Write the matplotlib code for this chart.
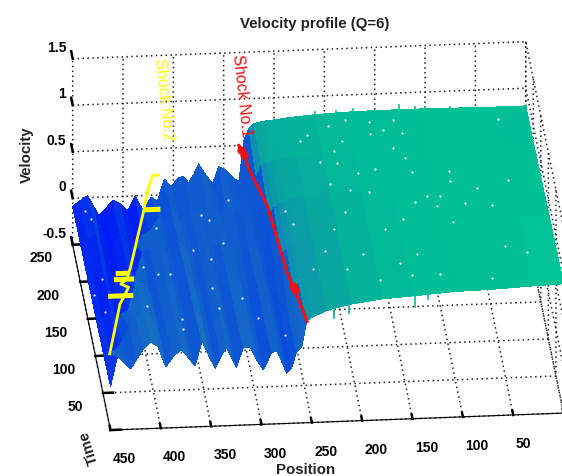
import matplotlib
matplotlib.use("Agg")
import matplotlib.pyplot as plt
from matplotlib.colors import LinearSegmentedColormap, Normalize
from matplotlib.transforms import offset_copy
import numpy as np

# values
positions = [450, 443, 435, 430, 424, 417, 410, 403, 395, 388, 380, 372, 366, 359, 352, 346, 340, 335, 330, 325, 318,
             311, 305, 298, 290, 285, 280, 275, 270, 265, 260, 255, 250, 235, 210, 180, 150, 110, 70, 30, 0]
times = [0, 50, 100, 150, 200, 250]

velocity_t0 = [-.03, .29, .2, .15, .25, .36, .43, .38, .155, .26, .34, .24, .154, .42, .25, .124, .25, .345, .24, .126,
               .33, .33, .2, .083, .27, .28, .17, .04, .1, .27, .316, .6, .63, .7, .76, .8, .82, .85, .86, .88, .89]
velocity_t50 = [-.05, -.08, -.02, .05, .22, .3, .36, .3, .14, .22, .3, .2, .14, .36, .24, .13, .22, .3, .22, .14,
                .3, .3, .2, .1, .25, .27, .17, .06, .12, .24, .55, .6, .62, .68, .75, .8, .82, .84, .85, .87, .88]
velocity_t100 = [-.06, -.1, -.04, -.1, -.06, -.02, .28, .26, .12, .2, .28, .18, .13, .32, .22, .14, .22, .28, .2, .16,
                 .28, .26, .2, .12, .24, .25, .15, .08, .14, .52, .58, .62, .64, .7, .76, .8, .82, .83, .84, .85, .86]
velocity_t150 = [-.07, -.08, -.02, -.1, -.14, -.08, -.03, -.07, .2, .22, .24, .17, .12, .28, .2, .15, .22, .24, .2, .22,
                 .26, .2, .22, .16, .2, .2, .14, .12, .55, .62, .66, .68, .7, .73, .78, .81, .82, .83, .83, .84, .84]
velocity_t200 = [-.08, -.05, 0, -.08, -.17, -.1, -.04, -.08, -.14, -.02, .02, .16, .1, .22, .14, .16, .2, .18, .2, .27,
                 .22, .14, .25, .2, .17, .15, .15, .55, .68, .7, .72, .73, .74, .76, .79, .81, .82, .83, .83, .82, .82]
velocity_t250 = [-.09, -.03, .02, -.08, -.2, -.12, -.04, -.08, -.157, 0, -.163, -.02, -.07, .17, .084, .17, .19, .12,
                 .2, .32, .2, .1, .28, .24, .15, .11, .55, .68, .73, .74, .75, .76, .76, .78, .8, .815, .82, .82, .815,
                 .81, .81]

shock1_pos = [285, 282, 279, 274, 269, 267, 265, 263, 260, 257, 253]
shock1_time = [250, 237, 214, 191, 168, 139, 107, 78, 59, 41, 11]
shock1_vel = [.5] * len(shock1_pos)
shock1_blob_pos = [284, 282, 260, 259]
shock1_blob_time = [244, 237, 59, 54]

shock2_pos = [450, 439, 430, 425, 418, 425, 418, 412, 399, 388, 379, 372, 366]
shock2_time = [5, 41, 71, 80, 93, 98, 104, 120, 160, 194, 224, 241, 242]
shock2_vel = [.28] * len(shock2_pos)
# the flat bars where the tracked shock jumps: (from, to, time)
bar_from = [440, 431, 428, 387]
bar_to = [415, 411, 415, 371]
bar_time = [82, 104, 112, 196]

# white pin holes in the surface
speck_pos = [30, 133, 158, 181, 199, 229, 221, 145, 127, 159, 188, 139, 198, 129, 214, 197, 179, 161, 89, 125, 89, 32,
             64, 190, 172, 115, 102, 208, 53, 79, 107, 128, 199, 253, 214, 163, 95, 144, 48, 28, 137, 227, 242, 209,
             178, 146, 118, 68, 190, 155,
             398, 385, 373, 330, 334, 307, 402, 371, 332, 295, 272, 346, 315, 370, 378, 331, 301, 324, 247,
             448, 436, 440, 439, 435]
speck_time = [235, 239, 237, 241, 234, 216, 223, 226, 221, 222, 213, 201, 201, 188, 187, 184, 170, 174, 168, 169, 155,
              153, 144, 148, 144, 136, 135, 157, 120, 124, 122, 128, 118, 105, 96, 93, 100, 106, 65, 55, 59, 67, 43, 42,
              26, 31, 30, 23, 61, 47,
              129, 120, 119, 137, 98, 83, 77, 44, 71, 55, 32, 150, 158, 58, 181, 196, 215, 189, 197,
              125, 147, 102, 239, 228]
speck_vel = [.8] * 50 + [.2] * 19 + [-.05] * 5

# thin spikes on the front and back edges of the plateau
spike_pos = [148, 135, 213, 228, 172, 188, 126, 100, 209, 110, 75]
spike_time = [0, 0, 0, 0, 250, 250, 250, 250, 250, 250, 250]
spike_top = [.82, .87, .74, .70, .85, .83, .87, .83, .83, .84, .83]
spike_bottom = [.70, .78, .66, .62, .76, .76, .81, .81, .79, .81, .81]

position_ticks = [0, 50, 100, 150, 200, 250, 300, 350, 400, 450]
position_labels = ["", "50", "100", "150", "200", "250", "300", "350", "400", "450"]
time_ticks = [0, 50, 100, 150, 200, 250]
time_labels = ["", "50", "100", "150", "200", "250"]
velocity_ticks = [-0.5, 0, 0.5, 1, 1.5]
velocity_labels = ["-0.5", "0", "0.5", "1", "1.5"]

W, H = 562, 477
INK = "#222222"

plt.rcParams["font.family"] = ["Liberation Sans", "DejaVu Sans"]
plt.rcParams["font.weight"] = "bold"
plt.rcParams["font.size"] = 10
plt.rcParams["text.color"] = INK


def shift_tick_labels(axis, dx, dy):
    # mplot3d resets the tick transforms in get_major_ticks, so the pixel offset goes in after it
    original = axis.get_major_ticks
    shifted = offset_copy(axis.axes.transData, fig=axis.figure, x=dx, y=dy, units="dots")

    def get_major_ticks(numticks=None):
        ticks = original(numticks)
        for tick in ticks:
            tick.label1.set_transform(shifted)
        return ticks

    axis.get_major_ticks = get_major_ticks


fig = plt.figure(figsize=(W / 100, H / 100), dpi=100, facecolor="white")
side = 600
ax = fig.add_axes([10 / W, -68 / H, side / W, side / H], projection="3d", computed_zorder=False)
ax.patch.set_visible(False)
ax.set_proj_type("ortho")
ax.view_init(elev=25.4, azim=-95)
ax.set_box_aspect((455, 434, 206), zoom=1.07)
ax.set_xlim(450, 0, view_margin=0)
ax.set_ylim(0, 250, view_margin=0)
ax.set_zlim(-0.5, 1.5, view_margin=0)

norm = Normalize(-0.2, 0.9)
cmap = LinearSegmentedColormap.from_list("flow", [
    (0.0, (0.0, 0.1, 0.97)), (0.09, (0.0, 0.13, 0.95)), (0.22, (0.03, 0.3, 0.86)), (0.36, (0.06, 0.36, 0.81)),
    (0.55, (0.08, 0.43, 0.77)), (0.68, (0.05, 0.56, 0.7)), (0.82, (0.03, 0.66, 0.62)), (0.93, (0.0, 0.75, 0.59)),
    (1.0, (0.0, 0.77, 0.59))])

velocity = np.array([velocity_t0, velocity_t50, velocity_t100, velocity_t150, velocity_t200, velocity_t250])
X, Y = np.meshgrid(positions, times)
ax.plot_surface(X, Y, velocity, facecolors=cmap(norm(velocity)), rstride=1, cstride=1, shade=False,
                linewidth=0, antialiased=False, zorder=2)
for p, t, top, bottom in zip(spike_pos, spike_time, spike_top, spike_bottom):
    ax.plot([p, p], [t, t], [top, bottom], color=cmap(norm(top)), lw=1.2, zorder=2.5)
ax.scatter(speck_pos, speck_time, speck_vel, s=2.5, c="white", linewidths=0, depthshade=False, zorder=3)

ax.plot(shock2_pos, shock2_time, shock2_vel, color="#ffff00", lw=2, zorder=5)
for p0, p1, t in zip(bar_from, bar_to, bar_time):
    ax.plot([p0, p1], [t, t], [.28, .28], color="#ffff00", lw=3.6, solid_capstyle="butt", zorder=5)
ax.plot(shock1_pos, shock1_time, shock1_vel, color="#ee1111", lw=2.2, zorder=5)
ax.plot(shock1_blob_pos, shock1_blob_time, [.5] * 4, ls="none", marker="o", ms=5, color="#ee1111", zorder=6)

ax.text(359, 250, 1.03, "Shock No.2", zdir=(-1, 0, -0.1), color="#ffff00", ha="center", va="center",
        fontweight="normal", fontsize=11.5, zorder=7)
ax.text(282, 250, 1.05, "Shock No.1", zdir=(-1, 0, -0.1), color="#ee1111", ha="center", va="center",
        fontweight="normal", fontsize=11.5, zorder=7)

ax.set_xticks(position_ticks)
ax.set_xticklabels(position_labels, ha="left")
ax.set_yticks(time_ticks)
ax.set_yticklabels(time_labels, ha="right")
ax.set_zticks(velocity_ticks)
ax.set_zticklabels(velocity_labels, ha="right")

for axis in [ax.xaxis, ax.yaxis, ax.zaxis]:
    axis.pane.set_facecolor("white")
    axis.pane.set_edgecolor("none")
    axis._axinfo["grid"].update(color=INK, linestyle=(0, (1, 2.2)), linewidth=1.1)
    axis._axinfo["tick"].update(inward_factor=0, outward_factor=0.28, linewidth={True: 1.8, False: 1.8})
    axis._axinfo["axisline"].update(color="black", linewidth=1.8)
    axis.offsetText.set_visible(False)
ax.zaxis.line.set_visible(False)
# velocity ticks run along the time direction, as in the original view
ax.zaxis._get_tickdir = lambda pos: 1
ax.zaxis._axinfo["tick"]["outward_factor"] = 0.5
ax.tick_params(axis="x", pad=6)
ax.tick_params(axis="y", pad=5)
ax.tick_params(axis="z", pad=0)

shift_tick_labels(ax.xaxis, 0, 2)
shift_tick_labels(ax.yaxis, 6, 6)
shift_tick_labels(ax.zaxis, 11, 13)

fig.text(315 / W, 1 - 24 / H, "Velocity profile (Q=6)", ha="center", va="center", fontsize=10.8)
fig.text(306 / W, 1 - 470 / H, "Position", ha="center", va="center", fontsize=10.8)
fig.text(27 / W, 1 - 155 / H, "Velocity", ha="center", va="center", rotation=90, fontsize=10.8)
fig.text(89 / W, 1 - 448 / H, "Time", ha="center", va="center", rotation=107, fontsize=10.8)

fig.savefig("out.png", dpi=100, facecolor="white")
